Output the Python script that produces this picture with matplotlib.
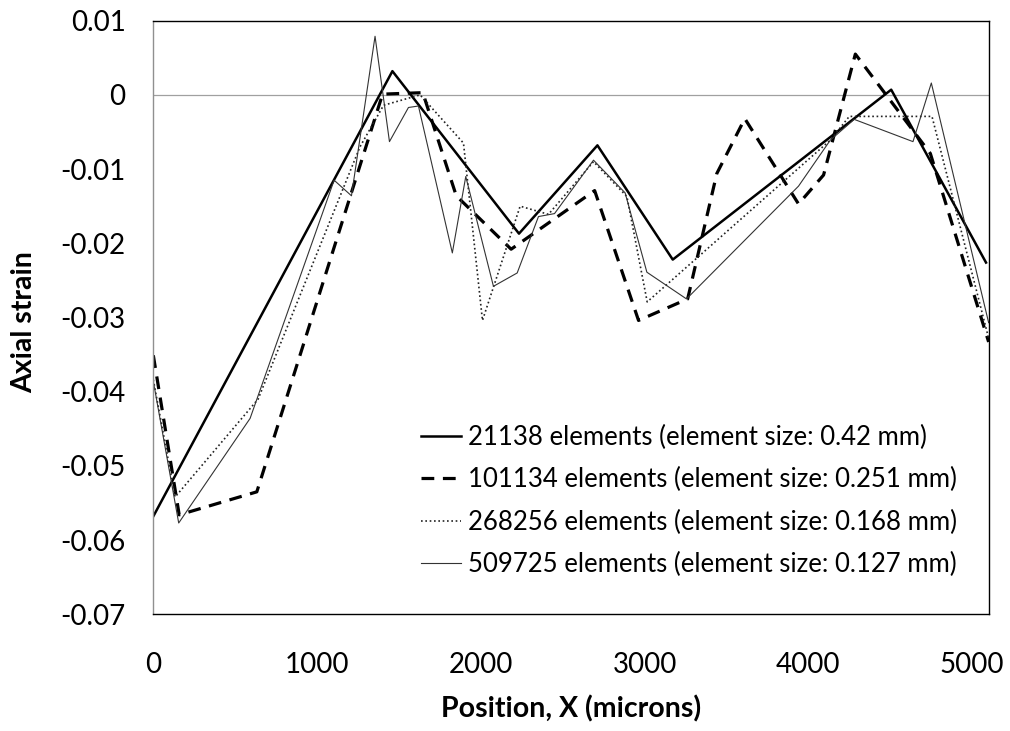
import matplotlib
matplotlib.use("Agg")
import matplotlib.pyplot as plt
from matplotlib.ticker import FuncFormatter, MultipleLocator

plt.rcParams['font.family'] = ['Lato', 'DejaVu Sans']

# mesh convergence data
x_21138 = [0, 1460, 2233, 2712, 3172, 4506, 5085]
y_21138 = [-0.0568, 0.0032, -0.0187, -0.0068, -0.0222, 0.0007, -0.0226]

x_101134 = [0, 158, 632, 1400, 1646, 1666, 1850, 2185, 2695, 2963, 3263,
            3441, 3612, 3940, 4093, 4287, 4745, 5101]
y_101134 = [-0.0351, -0.0566, -0.0535, 0.0001, 0.0003, -0.0011, -0.0136,
            -0.0208, -0.0129, -0.0304, -0.0275, -0.0106, -0.0032, -0.0147,
            -0.0108, 0.0055, -0.0079, -0.0333]

x_268256 = [0, 133, 640, 1262, 1406, 1629, 1894, 2010, 2240, 2413, 2688,
            2892, 3016, 4134, 4250, 4755, 5101]
y_268256 = [-0.0384, -0.0542, -0.0410, -0.0070, -0.0014, 0.0000, -0.0065,
            -0.0304, -0.0150, -0.0161, -0.0090, -0.0137, -0.0279, -0.0061,
            -0.0029, -0.0029, -0.0328]

x_509725 = [0, 155, 591, 1104, 1210, 1354, 1442, 1558, 1619, 1826, 1908,
            2077, 2222, 2352, 2450, 2688, 2881, 3014, 3256, 3940, 4134, 4280,
            4639, 4751, 5101]
y_509725 = [-0.0386, -0.0577, -0.0436, -0.0115, -0.0136, 0.0079, -0.0063,
            -0.0017, -0.0015, -0.0213, -0.0110, -0.0258, -0.0240, -0.0164,
            -0.0160, -0.0088, -0.0132, -0.0239, -0.0275, -0.0123, -0.0061,
            -0.0033, -0.0063, 0.0016, -0.0307]

labels = ['21138 elements (element size: 0.42 mm)',
          '101134 elements (element size: 0.251 mm)',
          '268256 elements (element size: 0.168 mm)',
          '509725 elements (element size: 0.127 mm)']

fig = plt.figure(figsize=(10.1, 7.31), dpi=100)
ax = fig.add_axes([0.1518, 0.1597, 0.8277, 0.812])

ax.axhline(0, color='#a0a0a0', lw=0.9, zorder=1)

ax.plot(x_21138, y_21138, color='black', lw=1.8, label=labels[0])
ax.plot(x_101134, y_101134, color='black', lw=2.3, dashes=(4, 2.7),
        label=labels[1])
ax.plot(x_268256, y_268256, color='#222222', lw=1.2, dashes=(1, 1.6),
        label=labels[2])
ax.plot(x_509725, y_509725, color='#333333', lw=0.8, label=labels[3])

ax.set_xlim(0, 5105)
ax.set_ylim(-0.07, 0.01)
ax.xaxis.set_major_locator(MultipleLocator(1000))
ax.yaxis.set_major_locator(MultipleLocator(0.01))
ax.yaxis.set_major_formatter(FuncFormatter(lambda v, p: '0' if abs(v) < 1e-9 else f'{v:.2f}'))
ax.tick_params(length=0, labelsize=20, pad=20)
ax.tick_params(axis='x', pad=27)

for s in ['top', 'right', 'bottom']:
    ax.spines[s].set_color('black')
    ax.spines[s].set_linewidth(1.0)
ax.spines['left'].set_color('#909090')
ax.spines['left'].set_linewidth(1.0)

fig.text(571 / 1010, 1 - 709 / 731, 'Position, X (microns)', fontsize=20.5,
         fontweight='bold', ha='center', va='center')
fig.text(24 / 1010, 1 - 322 / 731, 'Axial strain', fontsize=20.5,
         fontweight='bold', ha='center', va='center', rotation=90)

ax.legend(loc='upper left', bbox_to_anchor=(0.32, 0.319), frameon=False,
          fontsize=18.5, handlelength=1.56, handletextpad=0.27,
          labelspacing=0.67, borderpad=0, borderaxespad=0)

fig.savefig('out.png', dpi=100)
